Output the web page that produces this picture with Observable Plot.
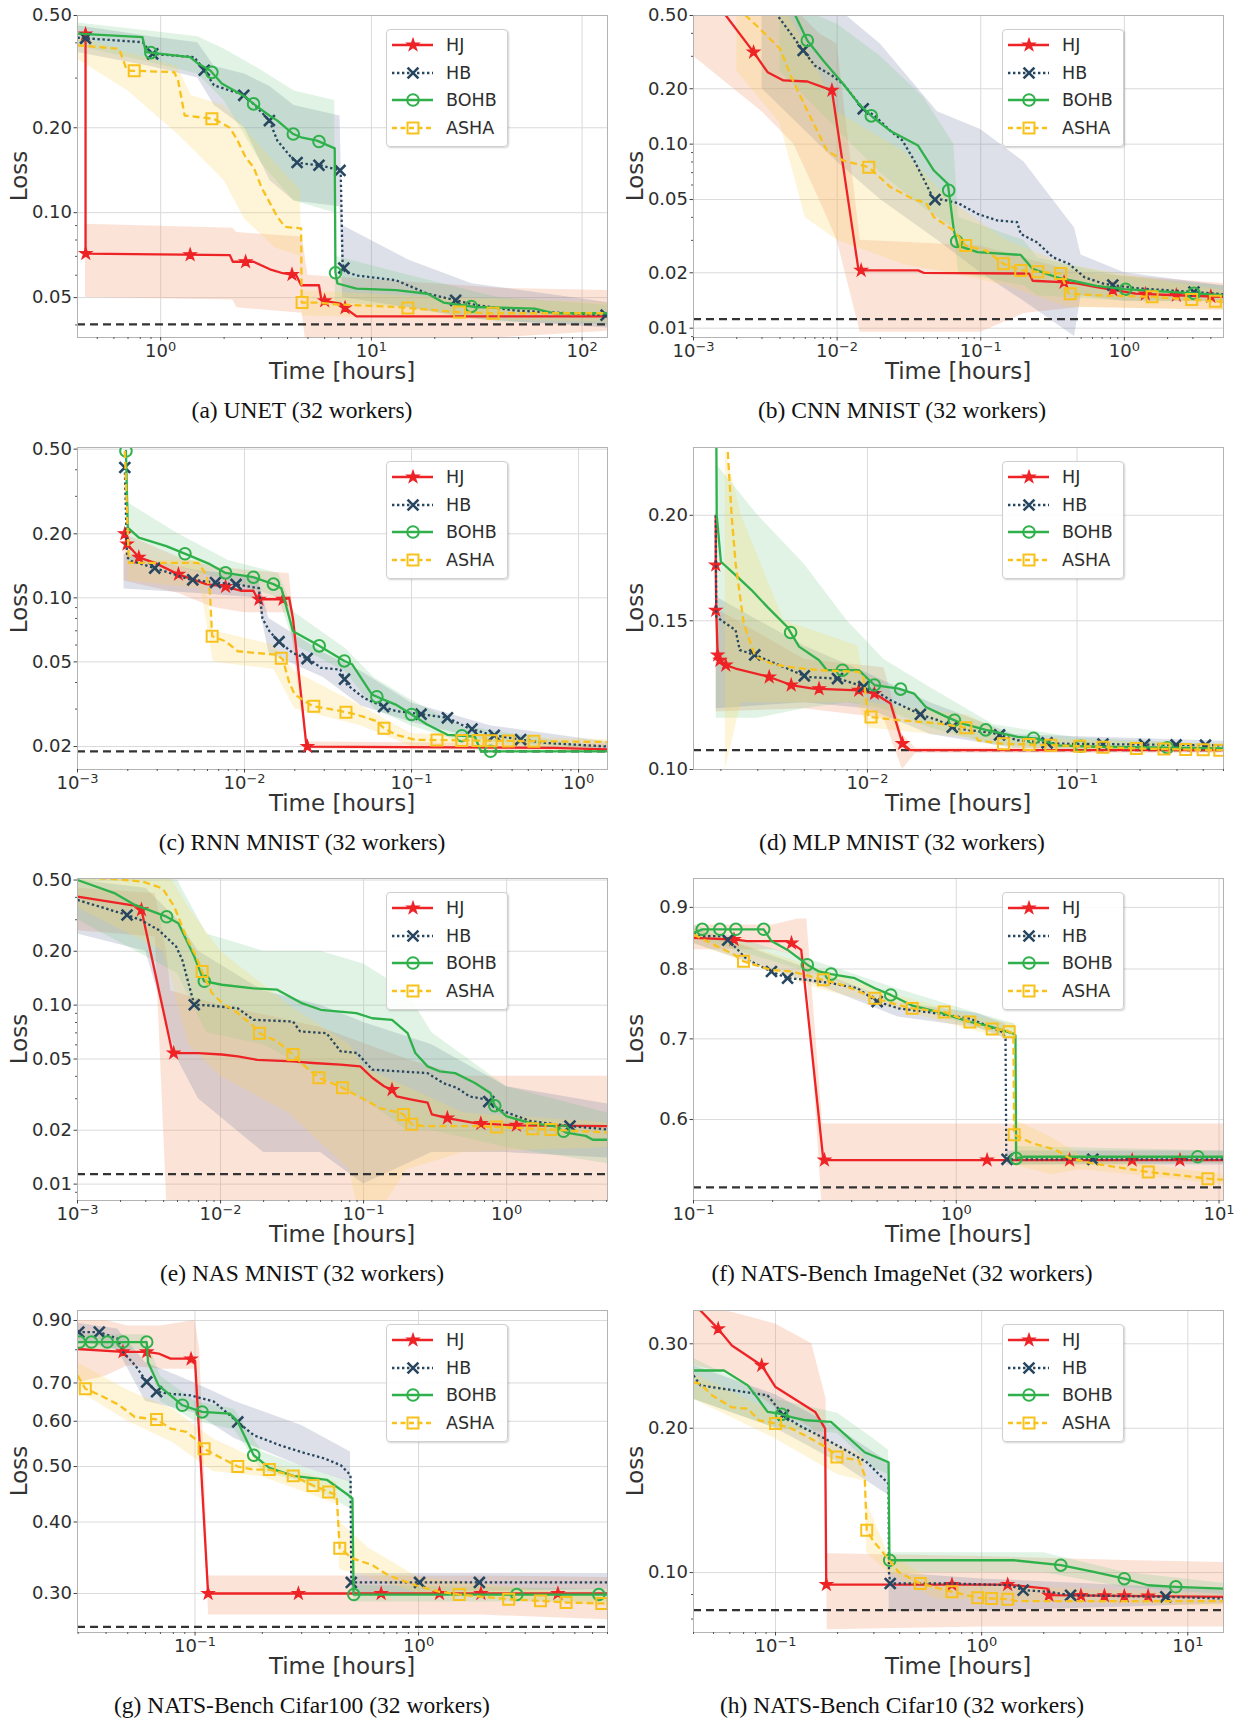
<!DOCTYPE html>
<html><head><meta charset="utf-8">
<script src="https://cdn.jsdelivr.net/npm/d3@7"></script>
<script src="https://cdn.jsdelivr.net/npm/@observablehq/plot@0.6"></script>
<style>
body{margin:0;background:#fff;}
#fig{position:relative;width:1241px;height:1720px;background:#fff;font-family:"DejaVu Sans",sans-serif;overflow:hidden;}
.cell{position:absolute;}
.cell svg{overflow:visible;}
.cap{position:absolute;font-family:"Liberation Serif","Times New Roman",serif;font-size:23.5px;color:#111;white-space:nowrap;transform:translate(-50%,-50%);}
.xl{position:absolute;font-size:23px;color:#333;white-space:nowrap;transform:translate(-50%,-50%);}
.yl{position:absolute;font-size:23px;color:#333;white-space:nowrap;transform:translate(-50%,-50%) rotate(-90deg);}
.leg{position:absolute;width:120px;height:116px;border:1px solid #cfcfcf;border-radius:4px;background:rgba(255,255,255,0.88);box-shadow:1px 1px 2px rgba(0,0,0,0.18);}
</style></head><body><div id="fig"></div>
<script>
// ---------- (a) UNET ----------
const a_xDomain=[0.403,132], a_yDomain=[0.0361,0.5], a_best=0.0402;
const a_xTicks=[1,10,100], a_yTicks=[0.05,0.1,0.2,0.5];
const a_HJ=[[0.44,0.437],[0.44,0.0716],[2.13,0.0707],[2.2,0.067],[2.76,0.067],[3.3,0.063],[3.8,0.061],[4.4,0.060],[4.64,0.0553],[5.64,0.0553],[5.8,0.0489],[7.15,0.0476],[7.5,0.046],[8.5,0.0429],[132,0.0429]];
const a_HJ_band=[[0.44,0.05,0.091],[2.2,0.049,0.088],[2.3,0.046,0.085],[4.7,0.044,0.082],[5.0,0.03,0.06],[20,0.03,0.056],[40,0.036,0.054],[132,0.038,0.053]];
const a_HJ_marks=[[0.44,0.43],0.441,1.38,2.53,4.2,6.0,7.5];
const a_HB=[[0.403,0.417],[0.823,0.402],[0.898,0.366],[1.44,0.356],[1.575,0.328],[1.79,0.283],[2.13,0.271],[2.43,0.264],[2.76,0.243],[3.28,0.212],[3.58,0.18],[4.35,0.151],[4.84,0.149],[5.76,0.147],[7.15,0.141],[7.3,0.066],[7.47,0.062],[8.5,0.0599],[13.1,0.0576],[18.5,0.0516],[25.1,0.0489],[31.1,0.0471],[48,0.045],[132,0.0433]];
const a_HB_band=[[0.403,0.37,0.46],[0.9,0.33,0.42],[1.5,0.3,0.4],[1.8,0.24,0.33],[2.5,0.2,0.31],[3.3,0.13,0.28],[4.3,0.11,0.24],[7.1,0.105,0.22],[7.3,0.05,0.09],[15,0.046,0.068],[30,0.042,0.056],[132,0.039,0.048]];
const a_HB_marks=[0.44,0.917,1.61,2.48,3.28,4.44,5.64,7.1,7.4,25.1,130];
const a_BOHB=[[0.403,0.431],[0.82,0.419],[0.85,0.371],[1.38,0.356],[1.51,0.337],[1.72,0.319],[1.95,0.287],[2.53,0.257],[2.76,0.243],[3.28,0.221],[3.58,0.212],[4.26,0.19],[4.64,0.185],[5.52,0.18],[6.7,0.169],[6.75,0.0616],[6.9,0.0561],[8.5,0.0538],[13.1,0.0531],[18.5,0.0516],[22,0.048],[31.1,0.0463],[59.5,0.0457],[73.9,0.044],[132,0.044]];
const a_BOHB_band=[[0.403,0.39,0.47],[0.9,0.34,0.44],[1.5,0.31,0.42],[2,0.25,0.38],[3,0.15,0.32],[4.3,0.11,0.27],[6.7,0.1,0.25],[6.75,0.048,0.07],[15,0.046,0.06],[40,0.041,0.05],[132,0.04,0.047]];
const a_BOHB_marks=[0.898,1.75,2.76,4.26,5.64,6.76,29.8];
const a_ASHA=[[0.403,0.392],[0.635,0.381],[0.692,0.319],[1.16,0.315],[1.21,0.294],[1.3,0.221],[1.79,0.215],[2.13,0.2],[2.32,0.18],[2.53,0.157],[2.76,0.145],[3.01,0.123],[3.58,0.0965],[3.9,0.089],[4.64,0.088],[4.67,0.048],[5.52,0.048],[6.85,0.0473],[13.1,0.0463],[25.1,0.0445],[37,0.044],[132,0.044]];
const a_ASHA_band=[[0.403,0.35,0.42],[0.7,0.27,0.37],[1.2,0.19,0.33],[1.4,0.17,0.26],[2,0.13,0.24],[2.5,0.095,0.2],[3.5,0.075,0.15],[4.6,0.07,0.12],[4.7,0.043,0.053],[20,0.042,0.05],[132,0.041,0.048]];
const a_ASHA_marks=[0.749,1.75,4.69,14.9,26.2,37.8];

// ---------- (b) CNN MNIST ----------
const b_xDomain=[0.001,4.9], b_yDomain=[0.0089,0.5], b_best=0.0112;
const b_xTicks=[0.001,0.01,0.1,1], b_yTicks=[0.01,0.02,0.05,0.1,0.2,0.5];
const b_HJ=[[0.0014,0.7],[0.00168,0.5],[0.00262,0.316],[0.00328,0.246],[0.00423,0.222],[0.0062,0.219],[0.0092,0.196],[0.0141,0.0206],[0.0366,0.0206],[0.04,0.02],[0.217,0.0198],[0.23,0.0181],[0.36,0.0178],[0.466,0.0175],[0.64,0.0167],[1.2,0.0154],[2.27,0.0151],[4.9,0.0148]];
const b_HJ_band=[[0.001,0.3,0.6],[0.003,0.15,0.6],[0.005,0.1,0.55],[0.0075,0.05,0.4],[0.01,0.03,0.35],[0.0145,0.0095,0.03],[0.1,0.0095,0.028],[0.2,0.012,0.024],[0.5,0.013,0.02],[4.9,0.0125,0.0175]];
const b_HJ_marks=[0.00262,0.0092,0.0147,0.38,0.83,1.4,2.3,4.0];
const b_HB=[[0.0033,0.65],[0.00385,0.5],[0.0058,0.323],[0.007,0.267],[0.0092,0.236],[0.011,0.213],[0.0151,0.156],[0.0182,0.143],[0.0235,0.118],[0.0284,0.105],[0.0344,0.0815],[0.0472,0.05],[0.0535,0.05],[0.0692,0.0479],[0.095,0.0418],[0.13,0.0385],[0.179,0.0377],[0.19,0.0325],[0.246,0.0293],[0.318,0.0243],[0.41,0.0224],[0.528,0.0189],[0.726,0.0174],[1.2,0.0165],[3.13,0.0157],[4.9,0.0153]];
const b_HB_band=[[0.003,0.2,0.6],[0.01,0.08,0.55],[0.02,0.05,0.35],[0.05,0.03,0.15],[0.1,0.02,0.12],[0.2,0.014,0.08],[0.45,0.009,0.035],[0.5,0.015,0.025],[1,0.014,0.02],[4.9,0.014,0.017]];
const b_HB_marks=[0.0058,0.0152,0.048,0.83,3.05];
const b_BOHB=[[0.0045,0.65],[0.00512,0.5],[0.0062,0.366],[0.008,0.285],[0.011,0.213],[0.0141,0.166],[0.0177,0.14],[0.0235,0.118],[0.0366,0.0983],[0.0472,0.0719],[0.059,0.0608],[0.065,0.0339],[0.0692,0.0281],[0.095,0.0259],[0.19,0.025],[0.23,0.021],[0.339,0.0189],[0.64,0.017],[1,0.0163],[4.9,0.0151]];
const b_BOHB_band=[[0.004,0.25,0.6],[0.01,0.12,0.45],[0.02,0.07,0.3],[0.04,0.045,0.18],[0.065,0.035,0.1],[0.07,0.02,0.04],[0.2,0.017,0.03],[0.25,0.015,0.024],[1,0.014,0.019],[4.9,0.014,0.017]];
const b_BOHB_marks=[0.0062,0.0173,0.0598,0.068,1.02,3.05];
const b_ASHA=[[0.002,0.65],[0.00231,0.5],[0.0029,0.423],[0.004,0.33],[0.0048,0.231],[0.0062,0.152],[0.0085,0.0923],[0.011,0.0815],[0.0166,0.075],[0.0235,0.0584],[0.0344,0.05],[0.0416,0.0479],[0.0472,0.0401],[0.065,0.0339],[0.0785,0.0281],[0.108,0.0265],[0.144,0.0224],[0.19,0.0206],[0.262,0.0202],[0.36,0.0198],[0.41,0.0154],[0.64,0.0151],[1.56,0.0148],[2.94,0.0143],[4.9,0.0139]];
const b_ASHA_band=[[0.002,0.25,0.6],[0.004,0.13,0.6],[0.006,0.04,0.35],[0.01,0.03,0.15],[0.03,0.022,0.09],[0.06,0.02,0.05],[0.15,0.017,0.03],[0.4,0.013,0.022],[4.9,0.0125,0.016]];
const b_ASHA_marks=[0.0166,0.0785,0.144,0.19,0.25,0.36,0.42,1.56,2.94,4.3];

// ---------- (c) RNN MNIST ----------
const c_xDomain=[0.001,1.49], c_yDomain=[0.0156,0.509], c_best=0.019;
const c_xTicks=[0.001,0.01,0.1,1], c_yTicks=[0.02,0.05,0.1,0.2,0.5];
const c_HJ=[[0.00192,0.206],[0.00198,0.179],[0.00233,0.155],[0.0029,0.146],[0.00402,0.129],[0.0059,0.116],[0.0077,0.113],[0.0095,0.108],[0.0113,0.108],[0.012,0.0985],[0.0175,0.0985],[0.0185,0.1],[0.0195,0.08],[0.0235,0.02],[0.71,0.0197],[1.49,0.0194]];
const c_HJ_band=[[0.0019,0.12,0.2],[0.004,0.105,0.155],[0.0065,0.09,0.14],[0.01,0.085,0.135],[0.0185,0.085,0.13],[0.0235,0.0195,0.021],[1.49,0.019,0.0205]];
const c_HJ_marks=[[0.00192,0.2],0.00198,0.00233,0.00402,0.0077,0.0122,0.017,0.0238];
const c_HB=[[0.00192,0.41],[0.00198,0.155],[0.0021,0.149],[0.0029,0.138],[0.0047,0.122],[0.0067,0.118],[0.0087,0.116],[0.0122,0.111],[0.0128,0.08],[0.0141,0.0697],[0.016,0.0625],[0.0195,0.055],[0.0247,0.0512],[0.0286,0.0469],[0.0375,0.046],[0.041,0.0391],[0.052,0.0338],[0.069,0.0306],[0.08,0.0294],[0.118,0.0283],[0.164,0.0273],[0.22,0.0244],[0.3,0.0227],[0.46,0.0215],[0.64,0.0208],[1.49,0.02]];
const c_HB_band=[[0.0019,0.11,0.16],[0.005,0.105,0.135],[0.012,0.1,0.125],[0.014,0.055,0.08],[0.03,0.042,0.055],[0.05,0.031,0.045],[0.1,0.026,0.032],[0.3,0.021,0.025],[1.49,0.0195,0.021]];
const c_HB_marks=[0.00192,0.0029,0.0049,0.0067,0.0089,0.0161,0.0237,0.0397,0.068,0.114,0.164,0.23,0.313,0.45];
const c_BOHB=[[0.00195,0.49],[0.002,0.214],[0.00233,0.192],[0.0034,0.175],[0.0045,0.16],[0.0062,0.144],[0.0077,0.131],[0.0113,0.125],[0.0149,0.116],[0.0166,0.111],[0.0195,0.0697],[0.027,0.0605],[0.0396,0.0505],[0.0441,0.0487],[0.058,0.0351],[0.0647,0.0338],[0.0804,0.0315],[0.1,0.0283],[0.124,0.0254],[0.164,0.0227],[0.239,0.0223],[0.26,0.019],[1.49,0.019]];
const c_BOHB_band=[[0.002,0.15,0.28],[0.004,0.14,0.2],[0.008,0.12,0.15],[0.016,0.1,0.13],[0.02,0.06,0.085],[0.04,0.045,0.058],[0.06,0.03,0.042],[0.1,0.025,0.033],[0.2,0.021,0.025],[1.49,0.0188,0.0195]];
const c_BOHB_marks=[0.00195,0.0044,0.0077,0.0113,0.0149,0.028,0.0396,0.062,0.1,0.2,0.297];
const c_ASHA=[[0.00192,0.49],[0.00203,0.146],[0.00527,0.146],[0.0059,0.129],[0.0062,0.108],[0.0064,0.066],[0.0077,0.0625],[0.0091,0.0561],[0.0119,0.055],[0.0157,0.054],[0.017,0.0512],[0.0185,0.04],[0.02,0.0351],[0.0255,0.031],[0.0375,0.0294],[0.0467,0.0283],[0.0612,0.0264],[0.0684,0.0244],[0.0804,0.0227],[0.106,0.0215],[1.49,0.021]];
const c_ASHA_band=[[0.002,0.12,0.15],[0.0055,0.11,0.15],[0.0065,0.05,0.07],[0.015,0.046,0.06],[0.02,0.03,0.045],[0.05,0.025,0.031],[0.1,0.02,0.023],[1.49,0.0198,0.0215]];
const c_ASHA_marks=[0.0064,0.0166,0.026,0.0405,0.0684,0.142,0.2,0.25,0.3,0.38,0.54];

// ---------- (d) MLP MNIST ----------
const d_xDomain=[0.00148,0.5], d_yDomain=[0.1,0.2406], d_best=0.1054;
const d_xTicks=[0.01,0.1], d_yTicks=[0.1,0.15,0.2];
const d_HJ=[[0.00189,0.1998],[0.00189,0.1746],[0.0019,0.1544],[0.00193,0.1366],[0.00198,0.1347],[0.00211,0.1329],[0.00235,0.1317],[0.0034,0.1287],[0.00433,0.1259],[0.0055,0.1247],[0.00909,0.1241],[0.0108,0.123],[0.0129,0.1197],[0.0147,0.1073],[0.016,0.1054],[0.5,0.1054]];
const d_HJ_band=[[0.0019,0.117,0.155],[0.005,0.118,0.135],[0.012,0.115,0.132],[0.0147,0.1,0.11],[0.017,0.1045,0.106],[0.5,0.1045,0.1062]];
const d_HJ_marks=[[0.00189,0.1746],[0.00189,0.1544],0.00193,0.00198,0.00211,0.0034,0.00433,0.00588,0.00909,0.0108,0.0147];
const d_HB=[[0.00189,0.2],[0.0019,0.1517],[0.00235,0.1462],[0.00246,0.1385],[0.00292,0.1366],[0.0038,0.1329],[0.00515,0.1287],[0.00731,0.1281],[0.00909,0.1259],[0.0108,0.1241],[0.0129,0.1208],[0.0182,0.116],[0.0217,0.1144],[0.026,0.1119],[0.04,0.1104],[0.052,0.1083],[0.0804,0.1073],[0.5,0.1068]];
const d_HB_band=[[0.0019,0.118,0.16],[0.005,0.12,0.14],[0.01,0.118,0.13],[0.02,0.11,0.12],[0.05,0.106,0.11],[0.5,0.1055,0.108]];
const d_HB_marks=[0.0029,0.005,0.0072,0.0096,0.0179,0.0254,0.0427,0.072,0.133,0.21,0.297,0.41];
const d_BOHB=[[0.0019,0.26],[0.00191,0.2],[0.002,0.1762],[0.00235,0.1699],[0.0028,0.1631],[0.00333,0.1558],[0.00414,0.1476],[0.00472,0.1398],[0.00588,0.1347],[0.00641,0.1311],[0.00909,0.1311],[0.0108,0.1259],[0.0141,0.1247],[0.0167,0.123],[0.019,0.1186],[0.0237,0.1155],[0.0282,0.1134],[0.0367,0.1114],[0.052,0.1093],[0.0647,0.1088],[0.0804,0.1068],[0.1245,0.1064],[0.5,0.1059]];
const d_BOHB_band=[[0.0019,0.115,0.23],[0.003,0.115,0.2],[0.005,0.118,0.175],[0.008,0.12,0.15],[0.012,0.118,0.135],[0.02,0.112,0.125],[0.04,0.107,0.113],[0.1,0.105,0.109],[0.5,0.105,0.107]];
const d_BOHB_marks=[0.0043,0.0076,0.0108,0.0144,0.026,0.0367,0.062,0.104,0.27];
const d_ASHA=[[0.00211,0.26],[0.00225,0.2],[0.00235,0.1754],[0.00257,0.1489],[0.00292,0.136],[0.00348,0.1335],[0.00414,0.1323],[0.00588,0.1311],[0.00909,0.1305],[0.00957,0.1287],[0.0101,0.1155],[0.0141,0.1144],[0.0217,0.1134],[0.0308,0.1119],[0.0337,0.1083],[0.0436,0.1073],[0.0804,0.1068],[0.192,0.1059],[0.5,0.1054]];
const d_ASHA_band=[[0.0021,0.1,0.24],[0.0025,0.12,0.2],[0.004,0.12,0.15],[0.009,0.12,0.14],[0.0101,0.112,0.12],[0.03,0.109,0.116],[0.05,0.106,0.109],[0.5,0.105,0.107]];
const d_ASHA_marks=[0.0104,0.0295,0.0446,0.059,0.075,0.103,0.133,0.192,0.26,0.33,0.4,0.48];

// ---------- (e) NAS MNIST ----------
const e_xDomain=[0.001,5.07], e_yDomain=[0.0081,0.51], e_best=0.01137;
const e_xTicks=[0.001,0.01,0.1,1], e_yTicks=[0.01,0.02,0.05,0.1,0.2,0.5];
const e_HJ=[[0.001,0.404],[0.00277,0.355],[0.00461,0.054],[0.00698,0.054],[0.0102,0.053],[0.0132,0.0517],[0.018,0.0495],[0.0321,0.0485],[0.0442,0.0475],[0.069,0.0465],[0.0948,0.0455],[0.115,0.0393],[0.139,0.0352],[0.158,0.0337],[0.17,0.0309],[0.217,0.0297],[0.28,0.0285],[0.3,0.0245],[0.385,0.0234],[0.6,0.0219],[1.14,0.0213],[5.07,0.0211]];
const e_HJ_band=[[0.001,0.26,0.45],[0.0035,0.24,0.42],[0.0042,0.008,0.2],[0.0045,0.005,0.12],[0.01,0.005,0.1],[0.05,0.005,0.075],[0.2,0.005,0.05],[0.5,0.005,0.04],[5.07,0.005,0.04]];
const e_HJ_marks=[0.0028,0.0047,0.158,0.385,0.66,1.17];
const e_HB=[[0.001,0.387],[0.00222,0.319],[0.00277,0.299],[0.00369,0.263],[0.0049,0.212],[0.0054,0.179],[0.00655,0.1005],[0.00844,0.0995],[0.0132,0.096],[0.017,0.0828],[0.0321,0.081],[0.036,0.0713],[0.055,0.0697],[0.069,0.0553],[0.09,0.054],[0.115,0.0436],[0.28,0.0417],[0.36,0.0367],[0.45,0.0345],[0.55,0.0309],[0.727,0.0297],[0.826,0.0266],[1.47,0.0225],[2.77,0.0211],[5.07,0.0202]];
const e_HB_band=[[0.001,0.25,0.5],[0.003,0.2,0.45],[0.005,0.05,0.3],[0.007,0.03,0.2],[0.02,0.015,0.12],[0.05,0.015,0.1],[0.1,0.01,0.08],[0.3,0.015,0.06],[1,0.015,0.035],[5.07,0.014,0.028]];
const e_HB_marks=[0.00222,0.00655,0.75,2.77];
const e_BOHB=[[0.001,0.5],[0.00183,0.421],[0.00252,0.363],[0.00419,0.312],[0.00507,0.287],[0.00655,0.187],[0.00767,0.136],[0.0102,0.13],[0.017,0.124],[0.0249,0.122],[0.0365,0.103],[0.0501,0.0942],[0.0889,0.0903],[0.115,0.0845],[0.158,0.0828],[0.203,0.0697],[0.23,0.054],[0.28,0.0455],[0.339,0.0427],[0.437,0.0417],[0.6,0.0367],[0.77,0.0323],[0.826,0.0274],[1,0.0239],[1.47,0.0219],[2.15,0.0211],[2.6,0.0194],[3.57,0.0186],[4.0,0.0177],[5.07,0.0177]];
const e_BOHB_band=[[0.001,0.3,0.55],[0.005,0.15,0.5],[0.008,0.07,0.25],[0.02,0.06,0.2],[0.05,0.04,0.2],[0.1,0.03,0.17],[0.2,0.02,0.12],[0.3,0.02,0.07],[1,0.016,0.035],[5.07,0.013,0.025]];
const e_BOHB_marks=[0.0042,0.0077,0.826,2.5];
const e_ASHA=[[0.001,0.52],[0.00195,0.504],[0.00286,0.49],[0.00393,0.449],[0.00475,0.355],[0.00575,0.241],[0.00676,0.187],[0.00743,0.154],[0.0087,0.117],[0.0102,0.103],[0.0132,0.0903],[0.017,0.076],[0.0187,0.0697],[0.0249,0.0627],[0.0321,0.053],[0.0389,0.0455],[0.0487,0.0393],[0.0712,0.0345],[0.101,0.0297],[0.13,0.0266],[0.179,0.025],[0.19,0.0245],[0.217,0.0216],[0.262,0.0211],[0.6,0.0211],[1.56,0.0204],[5.07,0.0194]];
const e_ASHA_band=[[0.001,0.35,0.6],[0.004,0.2,0.6],[0.006,0.06,0.35],[0.01,0.04,0.2],[0.03,0.025,0.1],[0.08,0.012,0.06],[0.1,0.005,0.045],[0.2,0.012,0.035],[0.5,0.015,0.025],[5.07,0.016,0.022]];
const e_ASHA_marks=[0.00743,0.0187,0.0321,0.0487,0.0712,0.19,0.217,0.85,1.52,2.04];

// ---------- (f) NATS-Bench ImageNet ----------
const f_xDomain=[0.1,10.4], f_yDomain=[0.514,0.951], f_best=0.527;
const f_xTicks=[0.1,1,10], f_yTicks=[0.6,0.7,0.8,0.9];
const f_HJ=[[0.1,0.849],[0.1426,0.8464],[0.16,0.8436],[0.228,0.8436],[0.236,0.8405],[0.257,0.8297],[0.312,0.5553],[10.4,0.5553]];
const f_HJ_band=[[0.1,0.83,0.87],[0.2,0.83,0.87],[0.25,0.82,0.88],[0.27,0.8,0.88],[0.31,0.5,0.595],[10.4,0.5,0.595]];
const f_HJ_marks=[0.1426,0.236,0.315,1.31,2.7,4.67,7.1];
const f_HB=[[0.1,0.857],[0.108,0.852],[0.13,0.852],[0.145,0.833],[0.16,0.8143],[0.198,0.7962],[0.228,0.786],[0.271,0.7836],[0.334,0.7786],[0.42,0.7711],[0.5,0.7517],[0.603,0.742],[0.796,0.7362],[1.127,0.7277],[1.5,0.7092],[1.54,0.7],[1.55,0.5561],[10.4,0.5561]];
const f_HB_band=[[0.1,0.84,0.865],[0.3,0.775,0.795],[0.6,0.73,0.75],[1.2,0.715,0.735],[1.54,0.7,0.72],[1.56,0.55,0.565],[10.4,0.55,0.565]];
const f_HB_marks=[0.135,0.198,0.228,0.5,1.56,3.31];
const f_BOHB=[[0.1,0.857],[0.108,0.863],[0.185,0.863],[0.198,0.8438],[0.228,0.8297],[0.271,0.8066],[0.3,0.7962],[0.334,0.7922],[0.411,0.786],[0.49,0.7711],[0.563,0.7613],[0.68,0.746],[0.85,0.737],[1.127,0.723],[1.3,0.7184],[1.65,0.707],[1.68,0.7047],[1.69,0.5571],[1.8,0.5588],[10.4,0.5588]];
const f_BOHB_band=[[0.1,0.85,0.87],[0.3,0.79,0.81],[0.6,0.75,0.77],[1.2,0.715,0.735],[1.68,0.7,0.72],[1.7,0.55,0.57],[10.4,0.552,0.565]];
const f_BOHB_marks=[0.108,0.126,0.145,0.185,0.271,0.334,0.563,1.69,8.3];
const f_ASHA=[[0.1,0.8546],[0.126,0.833],[0.1426,0.8225],[0.155,0.8118],[0.198,0.7983],[0.236,0.7962],[0.312,0.7836],[0.374,0.7752],[0.49,0.7566],[0.6,0.747],[0.68,0.742],[0.9,0.737],[1.127,0.723],[1.34,0.7138],[1.55,0.7115],[1.65,0.707],[1.66,0.5828],[1.95,0.5734],[2.4,0.5661],[2.7,0.5571],[3.31,0.5517],[5.38,0.5428],[7.1,0.5393],[9.07,0.5359],[10.4,0.5348]];
const f_ASHA_band=[[0.1,0.84,0.865],[0.3,0.77,0.8],[0.6,0.74,0.76],[1.2,0.71,0.73],[1.65,0.7,0.72],[1.66,0.55,0.6],[2.3,0.54,0.58],[3,0.545,0.56],[10.4,0.53,0.54]];
const f_ASHA_marks=[0.155,0.312,0.49,0.68,0.9,1.127,1.37,1.59,1.661,5.38,9.07];

// ---------- (g) NATS-Bench Cifar100 ----------
const g_xDomain=[0.0298,7.0], g_yDomain=[0.2564,0.937], g_best=0.2623;
const g_xTicks=[0.1,1], g_yTicks=[0.3,0.4,0.5,0.6,0.7,0.9];
const g_HJ=[[0.0298,0.8025],[0.0476,0.7932],[0.0608,0.7932],[0.0687,0.788],[0.0777,0.7721],[0.0952,0.7721],[0.1,0.765],[0.1144,0.3],[7.0,0.3]];
const g_HJ_band=[[0.0298,0.7,0.9],[0.04,0.72,0.9],[0.05,0.75,0.88],[0.07,0.74,0.88],[0.1,0.74,0.9],[0.105,0.6,0.8],[0.115,0.275,0.322],[1.9,0.275,0.322],[7.0,0.27,0.32]];
const g_HJ_marks=[0.0476,0.0608,0.096,0.1144,0.29,0.68,1.24,1.9,4.2];
const g_HB=[[0.0298,0.8589],[0.0373,0.8589],[0.045,0.8367],[0.0476,0.7932],[0.054,0.7513],[0.0608,0.7029],[0.0673,0.6756],[0.0777,0.67],[0.0952,0.6661],[0.121,0.6498],[0.1553,0.5983],[0.183,0.5672],[0.24,0.5448],[0.298,0.5301],[0.38,0.5164],[0.448,0.5028],[0.496,0.4831],[0.5,0.3137],[7.0,0.3137]];
const g_HB_band=[[0.0298,0.83,0.89],[0.045,0.8,0.87],[0.06,0.65,0.76],[0.1,0.62,0.7],[0.15,0.56,0.65],[0.3,0.5,0.59],[0.496,0.47,0.53],[0.5,0.3,0.325],[7.0,0.305,0.325]];
const g_HB_marks=[0.0302,0.0373,0.0608,0.0673,0.1553,0.5,1.01,1.87];
const g_BOHB=[[0.0298,0.8253],[0.0608,0.8253],[0.0616,0.7609],[0.0687,0.6932],[0.0777,0.6661],[0.0878,0.6399],[0.1076,0.6229],[0.1432,0.6186],[0.1553,0.5986],[0.183,0.5233],[0.215,0.4972],[0.275,0.4816],[0.39,0.4737],[0.486,0.4454],[0.506,0.4397],[0.512,0.2987],[7.0,0.2987]];
const g_BOHB_band=[[0.0298,0.8,0.85],[0.06,0.8,0.85],[0.07,0.65,0.72],[0.1,0.6,0.65],[0.15,0.58,0.63],[0.2,0.49,0.53],[0.3,0.47,0.5],[0.506,0.42,0.47],[0.512,0.29,0.31],[7.0,0.29,0.305]];
const g_BOHB_marks=[0.0304,0.0344,0.0405,0.0476,0.0608,0.0878,0.1076,0.183,0.513,2.75,6.4];
const g_ASHA=[[0.0298,0.7215],[0.0323,0.684],[0.0388,0.6623],[0.0457,0.6406],[0.0538,0.6103],[0.0673,0.6045],[0.0777,0.5827],[0.0914,0.575],[0.1033,0.5529],[0.1098,0.5372],[0.132,0.5168],[0.1553,0.5],[0.183,0.4939],[0.215,0.4939],[0.275,0.4816],[0.337,0.4635],[0.396,0.4514],[0.43,0.4454],[0.444,0.3598],[0.506,0.3455],[0.621,0.3363],[0.731,0.3228],[0.972,0.31],[1.24,0.302],[1.52,0.2987],[1.94,0.296],[2.53,0.2932],[3.51,0.2912],[4.57,0.2893],[7.0,0.2881]];
const g_ASHA_band=[[0.0298,0.68,0.76],[0.05,0.6,0.68],[0.08,0.55,0.63],[0.12,0.49,0.56],[0.2,0.48,0.51],[0.43,0.43,0.47],[0.444,0.33,0.4],[0.6,0.32,0.36],[1,0.3,0.32],[7.0,0.285,0.295]];
const g_ASHA_marks=[0.0323,0.0673,0.1098,0.1553,0.215,0.275,0.337,0.396,0.444,1.52,2.53,3.51,4.57,6.6];

// ---------- (h) NATS-Bench Cifar10 ----------
const h_xDomain=[0.04,14.9], h_yDomain=[0.075,0.352], h_best=0.0835;
const h_xTicks=[0.1,1,10], h_yTicks=[0.1,0.2,0.3];
const h_HJ=[[0.04,0.38],[0.0432,0.352],[0.0527,0.3223],[0.0614,0.2976],[0.0857,0.2704],[0.1,0.2437],[0.1557,0.2163],[0.174,0.1997],[0.1762,0.0944],[1.3375,0.0944],[2.075,0.0926],[2.12,0.0897],[14.9,0.089]];
const h_HJ_band=[[0.04,0.27,0.36],[0.06,0.26,0.35],[0.1,0.22,0.33],[0.15,0.2,0.3],[0.176,0.18,0.23],[0.178,0.076,0.1095],[1,0.077,0.108],[5,0.077,0.106],[14.9,0.077,0.105]];
const h_HJ_marks=[0.0527,0.0857,0.1765,0.7177,1.3375,2.12,3.03,3.94,4.92,6.42];
const h_HB=[[0.04,0.2577],[0.0432,0.2457],[0.0915,0.2342],[0.1093,0.2129],[0.13,0.2027],[0.174,0.1902],[0.2123,0.1813],[0.277,0.1699],[0.3535,0.1532],[0.355,0.1003],[0.36,0.0949],[0.7338,0.0949],[1.368,0.0941],[1.59,0.0919],[2.12,0.0912],[2.7,0.0897],[7.82,0.089],[14.9,0.0883]];
const h_HB_band=[[0.04,0.23,0.27],[0.1,0.2,0.235],[0.2,0.17,0.2],[0.3535,0.145,0.17],[0.356,0.083,0.1],[1,0.083,0.097],[14.9,0.086,0.092]];
const h_HB_marks=[0.1093,0.36,1.59,2.7,7.82];
const h_BOHB=[[0.04,0.2639],[0.0562,0.2639],[0.0734,0.2457],[0.0823,0.2304],[0.0915,0.2163],[0.103,0.2147],[0.1194,0.211],[0.14,0.2078],[0.1858,0.2062],[0.2707,0.1782],[0.3535,0.1699],[0.357,0.1061],[1.43,0.1061],[2.42,0.1036],[3.5,0.1003],[4.92,0.0971],[6.42,0.0941],[8.75,0.0934],[14.9,0.0926]];
const h_BOHB_band=[[0.04,0.23,0.28],[0.1,0.2,0.23],[0.2,0.195,0.215],[0.3,0.165,0.19],[0.3535,0.16,0.18],[0.357,0.1,0.11],[2,0.1,0.11],[5,0.093,0.1],[14.9,0.09,0.095]];
const h_BOHB_marks=[0.107,0.358,2.42,4.92,8.75];
const h_ASHA=[[0.04,0.2496],[0.0432,0.2475],[0.0492,0.2342],[0.0614,0.2212],[0.0734,0.2196],[0.083,0.2078],[0.1,0.2046],[0.1194,0.1997],[0.1486,0.1902],[0.18,0.1813],[0.1986,0.1742],[0.2535,0.1715],[0.2707,0.1595],[0.277,0.1225],[0.3,0.1159],[0.3306,0.1104],[0.3613,0.1052],[0.395,0.1003],[0.5035,0.0949],[0.7177,0.0912],[0.9567,0.0886],[1.117,0.0883],[1.3375,0.088],[1.5,0.0872],[14.9,0.0872]];
const h_ASHA_band=[[0.04,0.23,0.26],[0.1,0.19,0.215],[0.2,0.16,0.185],[0.27,0.155,0.175],[0.277,0.11,0.14],[0.35,0.1,0.11],[0.6,0.088,0.095],[14.9,0.085,0.09]];
const h_ASHA_marks=[0.1,0.1986,0.277,0.5035,0.7177,0.9567,1.117,1.3375];

const seriesNames=["HJ","HB","BOHB","ASHA"];
const captions=["(a) UNET (32 workers)","(b) CNN MNIST (32 workers)","(c) RNN MNIST (32 workers)","(d) MLP MNIST (32 workers)","(e) NAS MNIST (32 workers)","(f) NATS-Bench ImageNet (32 workers)","(g) NATS-Bench Cifar100 (32 workers)","(h) NATS-Bench Cifar10 (32 workers)"];

const panels=[
 {xDomain:a_xDomain,yDomain:a_yDomain,best:a_best,xTicks:a_xTicks,yTicks:a_yTicks,yFmt:".2f",data:{HJ:[a_HJ,a_HJ_band,a_HJ_marks],HB:[a_HB,a_HB_band,a_HB_marks],BOHB:[a_BOHB,a_BOHB_band,a_BOHB_marks],ASHA:[a_ASHA,a_ASHA_band,a_ASHA_marks]}},
 {xDomain:b_xDomain,yDomain:b_yDomain,best:b_best,xTicks:b_xTicks,yTicks:b_yTicks,yFmt:".2f",data:{HJ:[b_HJ,b_HJ_band,b_HJ_marks],HB:[b_HB,b_HB_band,b_HB_marks],BOHB:[b_BOHB,b_BOHB_band,b_BOHB_marks],ASHA:[b_ASHA,b_ASHA_band,b_ASHA_marks]}},
 {xDomain:c_xDomain,yDomain:c_yDomain,best:c_best,xTicks:c_xTicks,yTicks:c_yTicks,yFmt:".2f",data:{HJ:[c_HJ,c_HJ_band,c_HJ_marks],HB:[c_HB,c_HB_band,c_HB_marks],BOHB:[c_BOHB,c_BOHB_band,c_BOHB_marks],ASHA:[c_ASHA,c_ASHA_band,c_ASHA_marks]}},
 {xDomain:d_xDomain,yDomain:d_yDomain,best:d_best,xTicks:d_xTicks,yTicks:d_yTicks,yFmt:".2f",data:{HJ:[d_HJ,d_HJ_band,d_HJ_marks],HB:[d_HB,d_HB_band,d_HB_marks],BOHB:[d_BOHB,d_BOHB_band,d_BOHB_marks],ASHA:[d_ASHA,d_ASHA_band,d_ASHA_marks]}},
 {xDomain:e_xDomain,yDomain:e_yDomain,best:e_best,xTicks:e_xTicks,yTicks:e_yTicks,yFmt:".2f",data:{HJ:[e_HJ,e_HJ_band,e_HJ_marks],HB:[e_HB,e_HB_band,e_HB_marks],BOHB:[e_BOHB,e_BOHB_band,e_BOHB_marks],ASHA:[e_ASHA,e_ASHA_band,e_ASHA_marks]}},
 {xDomain:f_xDomain,yDomain:f_yDomain,best:f_best,xTicks:f_xTicks,yTicks:f_yTicks,yFmt:".1f",data:{HJ:[f_HJ,f_HJ_band,f_HJ_marks],HB:[f_HB,f_HB_band,f_HB_marks],BOHB:[f_BOHB,f_BOHB_band,f_BOHB_marks],ASHA:[f_ASHA,f_ASHA_band,f_ASHA_marks]}},
 {xDomain:g_xDomain,yDomain:g_yDomain,best:g_best,xTicks:g_xTicks,yTicks:g_yTicks,yFmt:".2f",data:{HJ:[g_HJ,g_HJ_band,g_HJ_marks],HB:[g_HB,g_HB_band,g_HB_marks],BOHB:[g_BOHB,g_BOHB_band,g_BOHB_marks],ASHA:[g_ASHA,g_ASHA_band,g_ASHA_marks]}},
 {xDomain:h_xDomain,yDomain:h_yDomain,best:h_best,xTicks:h_xTicks,yTicks:h_yTicks,yFmt:".2f",data:{HJ:[h_HJ,h_HJ_band,h_HJ_marks],HB:[h_HB,h_HB_band,h_HB_marks],BOHB:[h_BOHB,h_BOHB_band,h_BOHB_marks],ASHA:[h_ASHA,h_ASHA_band,h_ASHA_marks]}}
];

const S={
 HJ:{color:"#ee2326",band:"#f39a72",op:0.28,dash:null,symbol:"star",r:3.8,fill:"#ee2326",sw:1.2,d3sym:d3.symbolStar},
 HB:{color:"#27465f",band:"#6f7f9e",op:0.24,dash:"2.4,2.6",symbol:"times",r:5,fill:"none",sw:2.6,d3sym:d3.symbolTimes},
 BOHB:{color:"#2eb14b",band:"#74c986",op:0.22,dash:null,symbol:"circle",r:5.8,fill:"none",sw:2,d3sym:d3.symbolCircle},
 ASHA:{color:"#f8c11c",band:"#f9d45e",op:0.24,dash:"7,4",symbol:"square",r:6.2,fill:"none",sw:2,d3sym:d3.symbolSquare}
};

function valueAt(pts,mx){
 if(mx<=pts[0][0]) return pts[0][1];
 for(let i=0;i<pts.length-1;i++){
  const [x0,y0]=pts[i],[x1,y1]=pts[i+1];
  if(mx>=x0&&mx<=x1){
   if(x1===x0) return y0;
   const t=(Math.log(mx)-Math.log(x0))/(Math.log(x1)-Math.log(x0));
   return Math.exp(Math.log(y0)+t*(Math.log(y1)-Math.log(y0)));
  }
 }
 return pts[pts.length-1][1];
}
function minorTicks(domain,major){
 const out=[];const k0=Math.floor(Math.log10(domain[0])),k1=Math.ceil(Math.log10(domain[1]));
 for(let k=k0;k<=k1;k++)for(let m=1;m<=9;m++){const v=m*Math.pow(10,k);
  if(v>=domain[0]*0.9999&&v<=domain[1]*1.0001&&!major.some(t=>Math.abs(t-v)/v<1e-6))out.push(v);}
 return out;
}
const fmtPow=v=>"10^"+Math.round(Math.log10(v));

const fig=document.getElementById("fig");
const rowTops=[0,432,863,1295];

panels.forEach((p,i)=>{
 const col=i%2,row=Math.floor(i/2);
 const cellX=col?620:0,cellW=col?621:620,cellY=rowTops[row];
 const mL=col?73:77,mR=col?18:13,mT=15,mB=53,H=390;
 const marks=[];
 marks.push(Plot.gridX(p.xTicks,{stroke:"#dadada",strokeOpacity:1,strokeWidth:1}));
 marks.push(Plot.gridY(p.yTicks,{stroke:"#dadada",strokeOpacity:1,strokeWidth:1}));
 seriesNames.forEach(k=>{
  marks.push(Plot.areaY(p.data[k][1],{x:d=>d[0],y1:d=>d[1],y2:d=>d[2],fill:S[k].band,fillOpacity:S[k].op,clip:true}));
 });
 marks.push(Plot.ruleY([p.best],{y:d=>d,stroke:"#333",strokeWidth:2.2,strokeDasharray:"8,5",clip:true}));
 seriesNames.forEach(k=>{
  const st=S[k];
  const lineOpts={x:d=>d[0],y:d=>d[1],stroke:st.color,strokeWidth:2.3,clip:true};
  if(st.dash){lineOpts.strokeDasharray=st.dash;lineOpts.strokeLinecap="butt";}
  marks.push(Plot.line(p.data[k][0],lineOpts));
  const mp=p.data[k][2].map(v=>Array.isArray(v)?v:[v,valueAt(p.data[k][0],v)]);
  marks.push(Plot.dot(mp,{x:d=>d[0],y:d=>d[1],symbol:st.symbol,r:st.r,fill:st.fill,stroke:st.color,strokeWidth:st.sw,clip:true}));
 });
 marks.push(Plot.frame({stroke:"#b3b3b3",strokeWidth:1}));
 marks.push(Plot.axisX(p.xTicks,{tickFormat:fmtPow,tickSize:3.5,tickPadding:3,fontSize:18,stroke:"#444",label:null}));
 marks.push(Plot.axisX(minorTicks(p.xDomain,p.xTicks),{tickFormat:()=>"",tickSize:2,stroke:"#555",label:null}));
 marks.push(Plot.axisY(p.yTicks,{tickFormat:d3.format(p.yFmt),tickSize:3.5,tickPadding:2,fontSize:18,stroke:"#444",label:null}));
 const my=minorTicks(p.yDomain,p.yTicks);
 if(my.length) marks.push(Plot.axisY(my,{tickFormat:()=>"",tickSize:2,stroke:"#555",label:null}));
 const chart=Plot.plot({
  width:cellW,height:H,marginLeft:mL,marginRight:mR,marginTop:mT,marginBottom:mB,
  x:{type:"log",domain:p.xDomain},y:{type:"log",domain:p.yDomain},
  style:{fontFamily:"DejaVu Sans, sans-serif",fontSize:"18px",color:"#2e2e2e",background:"transparent",overflow:"visible"},
  marks
 });
 // render powers of ten with a real superscript
 d3.select(chart).selectAll("text").each(function(){
  const m=/^10\^(-?\d+)$/.exec(this.textContent);
  if(m){const el=d3.select(this);el.text("10");
   el.append("tspan").attr("dy","-0.45em").attr("font-size","0.72em").text(m[1].replace("-","\u2212"));}
 });
 const cell=document.createElement("div");
 cell.className="cell";cell.style.left=cellX+"px";cell.style.top=cellY+"px";cell.style.width=cellW+"px";cell.style.height="431px";
 cell.appendChild(chart);
 const frameL=mL,frameR=cellW-mR;
 const xl=document.createElement("div");xl.className="xl";xl.textContent="Time [hours]";
 xl.style.left=((frameL+frameR)/2)+"px";xl.style.top="371px";cell.appendChild(xl);
 const yl=document.createElement("div");yl.className="yl";yl.textContent="Loss";
 yl.style.left=(frameL-58)+"px";yl.style.top=((mT+H-mB)/2)+"px";cell.appendChild(yl);
 const cap=document.createElement("div");cap.className="cap";cap.textContent=captions[i];
 cap.style.left=(col?282:302)+"px";cap.style.top="410px";cell.appendChild(cap);
 const leg=document.createElement("div");leg.className="leg";
 leg.style.left=(frameR-101-120)+"px";leg.style.top="29px";
 const lsvg=d3.create("svg").attr("width",120).attr("height",116);
 seriesNames.forEach((k,j)=>{
  const st=S[k];const y=[15,43,70,98][j];
  const ln=lsvg.append("line").attr("x1",5).attr("x2",46).attr("y1",y).attr("y2",y).attr("stroke",st.color).attr("stroke-width",2.3);
  if(st.dash) ln.attr("stroke-dasharray",k==="HB"?"2.4,2.6":"5,3.5");
  lsvg.append("path").attr("d",d3.symbol().type(st.d3sym).size(Math.PI*st.r*st.r)()).attr("transform",`translate(26,${y})`)
   .attr("fill",st.fill).attr("stroke",st.color).attr("stroke-width",st.sw);
  lsvg.append("text").attr("x",59).attr("y",y).attr("dy","0.36em").attr("font-size",17.5).attr("fill","#2e2e2e")
   .attr("font-family","DejaVu Sans, sans-serif").text(k);
 });
 leg.appendChild(lsvg.node());
 cell.appendChild(leg);
 fig.appendChild(cell);
});
</script></body></html>
